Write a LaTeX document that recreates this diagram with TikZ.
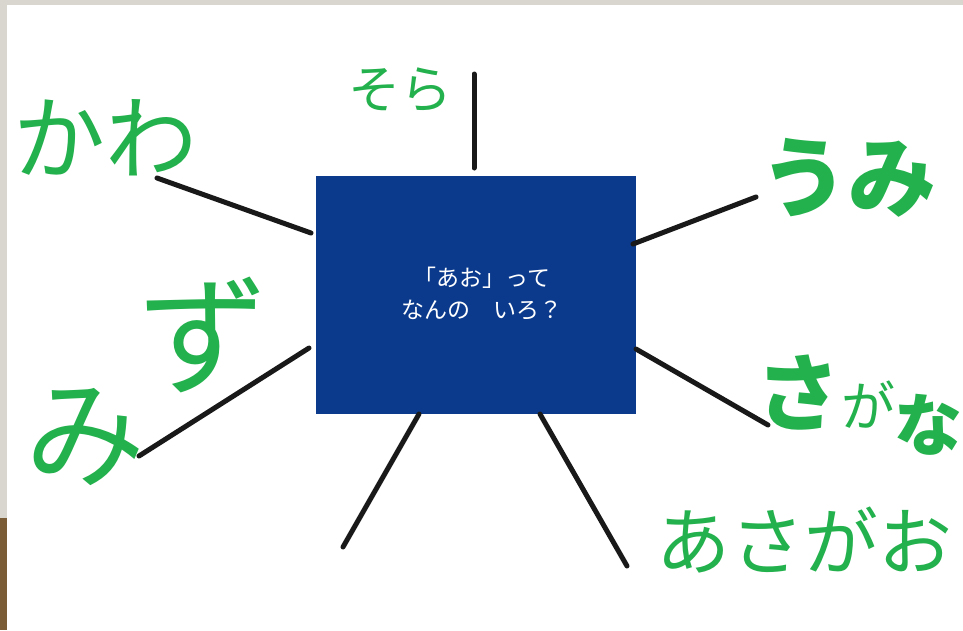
\documentclass[tikz,border=0pt]{standalone}
\usepackage{fontspec}
\newfontfamily\jp{Noto Sans CJK JP}
\definecolor{paintgreen}{HTML}{22B14C}
\definecolor{boxblue}{HTML}{0B3A8C}
\definecolor{frame}{HTML}{D9D6D0}
\definecolor{wood}{HTML}{7A5C36}

\tikzset{
    spoke/.style={line width=5pt, line cap=round, draw=black!90},
    word/.style={text=paintgreen, inner sep=0pt, font=\jp\fontsize{#1}{#1}\selectfont},
    bigword/.style={text=paintgreen, inner sep=0pt, font=\jp\bfseries\fontsize{#1}{#1}\selectfont}
}

\begin{document}
\begin{tikzpicture}[x=1pt,y=-1pt]

\useasboundingbox (0,0) rectangle (963,630);
\fill[white] (0,0) rectangle (963,630);
\fill[frame] (0,0) rectangle (963,5);
\fill[frame] (0,0) rectangle (7,518);
\fill[wood] (0,518) rectangle (7,630);

% centre box
\node[fill=boxblue, minimum width=320pt, minimum height=238pt, inner sep=0pt] (box) at (476,295) {};
\node[text=white, align=center, inner sep=0pt, font=\jp\fontsize{23}{32}\selectfont] (question) at (482,294)
      {「あお」って\\なんの　いろ？};

% spoke ends
\coordinate (K1) at (157,178);  \coordinate (K2) at (311,233);
\coordinate (S1) at (474,74);   \coordinate (S2) at (474,168);
\coordinate (U1) at (756,197);  \coordinate (U2) at (633,244);
\coordinate (M1) at (139,456);  \coordinate (M2) at (309,348);
\coordinate (F1) at (768,425);  \coordinate (F2) at (636,349);
\coordinate (L1) at (343,547);  \coordinate (L2) at (419,414);
\coordinate (R1) at (627,566);  \coordinate (R2) at (540,414);

\foreach \v in {K,S,U,M,F,L,R}
{
    \draw[spoke] (\v1) -- (\v2);
}

% words
\node[word=92] (kawa) at (105,138) {かわ};
\node[word=52] (sora) at (400,90) {そら};
\node[bigword=88] (umi) at (848,178) {うみ};
\node[word=120] (mi) at (85,437) {み};
\node[word=130] (zu) at (203,335) {ず};
\node[bigword=84] (sa) at (798,393) {さ};
\node[word=54] (ga) at (868,405) {が};
\node[bigword=68] (na) at (928,425) {な};
\node[word=74] (asagao) at (804,540) {あさがお};

\end{tikzpicture}
\end{document}
